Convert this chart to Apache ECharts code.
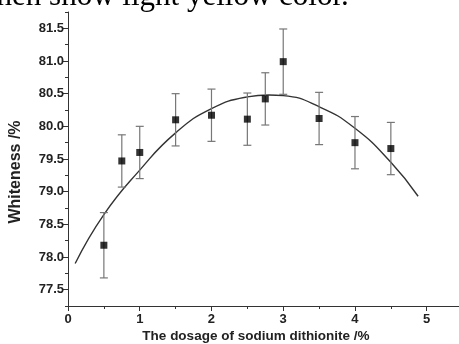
<!DOCTYPE html>
<html>
<head>
<meta charset="utf-8">
<script src="https://cdn.jsdelivr.net/npm/echarts@6/dist/echarts.min.js"></script>
<style>html,body{margin:0;padding:0;background:#fff;}#c{width:459px;height:344px;}</style>
</head>
<body>
<div id="c"></div>
<script>
// measured points
var dosage = [0.5, 0.75, 1, 1.5, 2, 2.5, 2.75, 3, 3.5, 4, 4.5];
var whiteness = [78.18, 79.47, 79.60, 80.10, 80.17, 80.11, 80.42, 80.99, 80.12, 79.75, 79.66];
var errorBars = [0.5, 0.4, 0.4, 0.4, 0.4, 0.4, 0.4, 0.5, 0.4, 0.4, 0.4];
// fitted curve
var fitX = [0.1, 0.5, 1, 1.5, 2, 2.5, 2.8, 3, 3.5, 4, 4.5, 4.88];
var fitY = [77.9, 78.65, 79.33, 79.90, 80.27, 80.45, 80.48, 80.47, 80.30, 79.97, 79.45, 78.93];
// tick values
var yTicks = [77.5, 78.0, 78.5, 79.0, 79.5, 80.0, 80.5, 81.0, 81.5];
var yMinorTicks = [77.25, 77.75, 78.25, 78.75, 79.25, 79.75, 80.25, 80.75, 81.25, 81.75];
var xTicks = [0, 1, 2, 3, 4, 5];

var chart = echarts.init(document.getElementById('c'), null, {renderer: 'canvas'});
var pts = dosage.map(function (d, i) { return [d, whiteness[i]]; });
var errData = dosage.map(function (d, i) { return [d, whiteness[i] - errorBars[i], whiteness[i] + errorBars[i]]; });
var fitData = fitX.map(function (x, i) { return [x, fitY[i]]; });

var labelFont = {fontFamily: 'Liberation Sans', fontWeight: 'bold', fontSize: 13, color: '#222'};
var axisCol = '#333';

chart.setOption({
  animation: false,
  backgroundColor: '#fff',
  grid: {left: 68, top: 12, width: 392, height: 294, containLabel: false},
  xAxis: {
    type: 'value', min: 0, max: 5.45, interval: 1,
    axisLine: {show: true, onZero: false, lineStyle: {color: axisCol, width: 1}},
    axisTick: {show: true, inside: false, length: 5, lineStyle: {color: axisCol}},
    minorTick: {show: true, splitNumber: 2, length: 3, lineStyle: {color: axisCol}},
    splitLine: {show: false},
    axisLabel: Object.assign({margin: 7, showMaxLabel: false, formatter: function (v) { return xTicks.indexOf(v) >= 0 ? String(v) : ''; }}, labelFont)
  },
  yAxis: [{
    type: 'value', min: 77.25, max: 81.75,
    axisLine: {show: true, onZero: false, lineStyle: {color: axisCol, width: 1}},
    axisTick: {show: true, length: 5, customValues: yTicks, lineStyle: {color: axisCol}},
    splitLine: {show: false},
    axisLabel: Object.assign({margin: 4, customValues: yTicks, formatter: function (v) { return v.toFixed(1); }}, labelFont)
  }, {
    type: 'value', min: 77.25, max: 81.75, position: 'left',
    axisLine: {show: false},
    axisTick: {show: true, length: 3, customValues: yMinorTicks, lineStyle: {color: axisCol}},
    splitLine: {show: false},
    axisLabel: {show: false}
  }],
  series: [{
    type: 'line', data: fitData, smooth: true, symbol: 'none',
    lineStyle: {color: '#333', width: 1.4}, z: 2
  }, {
    type: 'custom', data: errData, z: 3,
    renderItem: function (params, api) {
      var x = api.value(0);
      var lo = api.coord([x, api.value(1)]);
      var hi = api.coord([x, api.value(2)]);
      var w = 4;
      var st = {stroke: '#777', lineWidth: 1.2, fill: null};
      return {type: 'group', children: [
        {type: 'line', shape: {x1: lo[0], y1: lo[1], x2: hi[0], y2: hi[1]}, style: st},
        {type: 'line', shape: {x1: lo[0] - w, y1: lo[1], x2: lo[0] + w, y2: lo[1]}, style: st},
        {type: 'line', shape: {x1: hi[0] - w, y1: hi[1], x2: hi[0] + w, y2: hi[1]}, style: st}
      ]};
    }
  }, {
    type: 'scatter', data: pts, symbol: 'rect', symbolSize: 7, z: 4,
    itemStyle: {color: '#000'}
  }],
  graphic: [{
    type: 'text', left: -12, top: -19,
    style: {text: 'then show light yellow color.', font: '31px "Liberation Serif"', fill: '#000'}
  }, {
    type: 'text', x: 16, y: 172, rotation: Math.PI / 2,
    style: {text: 'Whiteness /%', font: 'bold 16px "Liberation Sans"', fill: '#222', align: 'center', verticalAlign: 'middle'}
  }, {
    type: 'text', x: 256, y: 336,
    style: {text: 'The dosage of sodium dithionite /%', font: 'bold 13.5px "Liberation Sans"', fill: '#222', align: 'center', verticalAlign: 'middle'}
  }]
});
</script>
</body>
</html>
